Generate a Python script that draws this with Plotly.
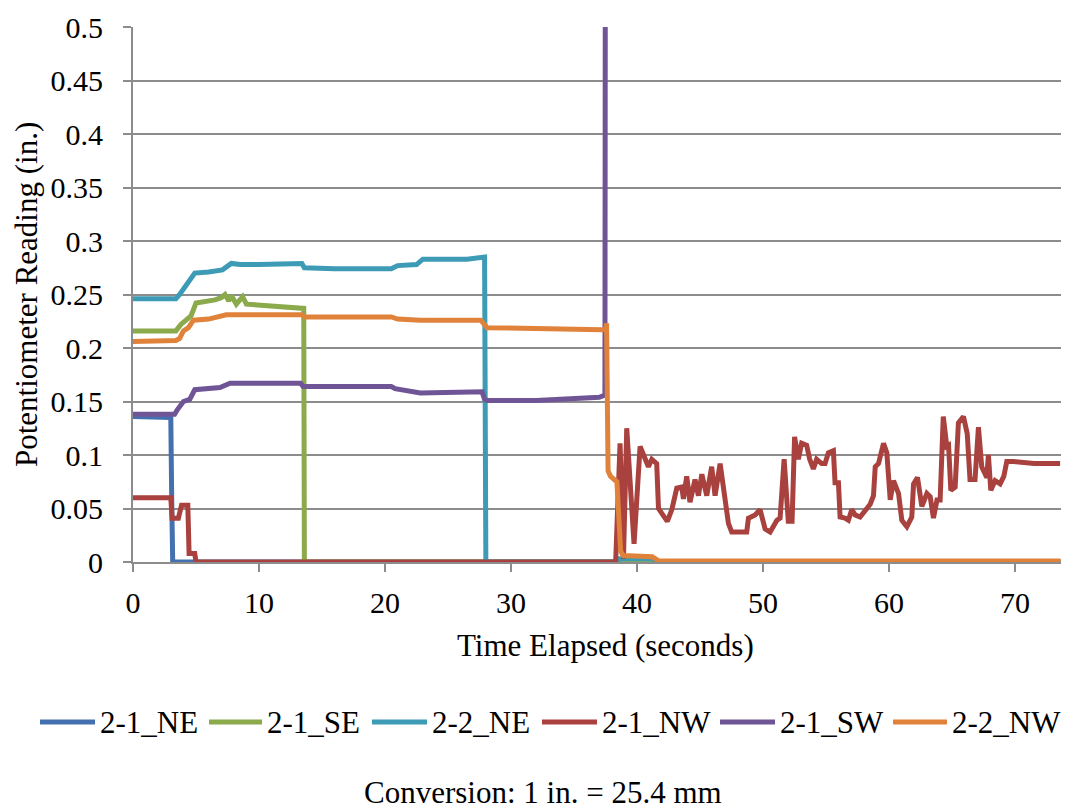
import plotly.graph_objects as go

# ---- data (time in s, reading in in.) ----
ne21_t = [0, 1.5, 3.0, 3.07, 3.15, 73.6]
ne21_v = [0.136, 0.135, 0.135, 0.06, 0.0, 0.0]

se21_t = [0, 3.4, 3.8, 4.2, 4.6, 5.0, 5.6, 6.5, 7.0, 7.3, 7.6, 7.8, 8.2, 8.7, 9.0, 10.5, 12.0, 13.4, 13.55, 13.6, 73.6]
se21_v = [0.216, 0.216, 0.222, 0.226, 0.230, 0.242, 0.243, 0.245, 0.247, 0.250, 0.244, 0.249, 0.241, 0.248, 0.241, 0.240, 0.239, 0.237, 0.237, 0.0, 0.0]

ne22_t = [0, 3.4, 3.7, 4.1, 4.5, 4.9, 6.0, 7.1, 7.8, 8.5, 10, 12, 13.4, 13.6, 16, 20.5, 21.0, 22.5, 23, 26.5, 27.8, 27.9, 28.0, 38.4, 38.6, 41.3, 41.6, 73.6]
ne22_v = [0.246, 0.246, 0.250, 0.257, 0.262, 0.270, 0.271, 0.273, 0.279, 0.278, 0.278, 0.279, 0.279, 0.275, 0.274, 0.274, 0.277, 0.278, 0.283, 0.283, 0.285, 0.285, 0.0, 0.0, 0.003, 0.003, 0.0, 0.0]

nw21_t = [0, 3.0, 3.1, 3.6, 3.85, 4.35, 4.45, 4.9, 5.0, 38.3,
          38.65, 38.92, 39.18, 39.76, 40.24, 40.63, 40.9, 41.17, 41.56, 41.7, 41.96, 42.4, 42.76, 43.15, 43.55,
          43.68, 43.94, 44.2, 44.6, 44.87, 45.14, 45.53, 45.92, 46.19, 46.59, 46.98, 47.25, 47.51, 47.91, 48.17,
          48.7, 48.84, 49.37, 49.76, 50.16, 50.56, 51.1, 51.35, 51.67, 52.0, 52.3, 52.5, 52.8, 53.06, 53.46,
          53.7, 53.99, 54.25, 54.65, 54.92, 55.18, 55.58, 55.71, 55.98, 56.11, 56.5, 56.77, 57.04, 57.3, 57.7,
          58.1, 58.5, 58.76, 58.9, 59.16, 59.56, 59.82, 60.09, 60.35, 60.75, 61.01, 61.41, 61.8, 61.94, 62.25,
          62.6, 63.0, 63.26, 63.52, 63.8, 64.05, 64.3, 64.58, 64.72, 64.9, 65.24, 65.5, 65.9, 66.2, 66.42,
          66.82, 67.09, 67.35, 67.75, 67.88, 68.07, 68.41, 68.81, 69.1, 69.34, 69.87, 71.5, 73.57]
nw21_v = [0.060, 0.060, 0.041, 0.041, 0.053, 0.053, 0.008, 0.008, 0.0, 0.0,
          0.111, 0.003, 0.125, 0.017, 0.108, 0.098, 0.089, 0.096, 0.092, 0.050, 0.046, 0.038, 0.049, 0.069, 0.070,
          0.059, 0.080, 0.056, 0.077, 0.062, 0.082, 0.062, 0.089, 0.062, 0.092, 0.058, 0.036, 0.028, 0.028, 0.027,
          0.028, 0.041, 0.044, 0.049, 0.031, 0.028, 0.039, 0.041, 0.096, 0.038, 0.038, 0.117, 0.096, 0.111, 0.109,
          0.096, 0.087, 0.096, 0.092, 0.092, 0.102, 0.104, 0.074, 0.074, 0.042, 0.041, 0.039, 0.049, 0.044, 0.042,
          0.049, 0.054, 0.062, 0.089, 0.092, 0.111, 0.102, 0.058, 0.076, 0.064, 0.039, 0.033, 0.042, 0.073, 0.079,
          0.052, 0.064, 0.061, 0.041, 0.058, 0.058, 0.136, 0.108, 0.109, 0.067, 0.070, 0.130, 0.136, 0.120, 0.077,
          0.077, 0.126, 0.089, 0.079, 0.100, 0.067, 0.076, 0.073, 0.080, 0.094, 0.094, 0.092, 0.092]

sw21_t = [0, 3.3, 3.5, 4.0, 4.5, 4.9, 6.9, 7.7, 10, 13.3, 13.5, 20.5, 20.8, 22.8, 27.7, 27.9, 28.1, 32, 37.0, 37.45, 37.55, 73.6]
sw21_v = [0.138, 0.138, 0.142, 0.150, 0.152, 0.161, 0.163, 0.167, 0.167, 0.167, 0.164, 0.164, 0.162, 0.158, 0.159, 0.152, 0.151, 0.151, 0.154, 0.156, 1.5, 1.5]

nw22_t = [0, 3.4, 3.7, 4.0, 4.4, 4.8, 6.0, 7.4, 10, 13.4, 13.6, 20.5, 21.0, 22.8, 27.6, 27.9, 28.1, 37.2, 37.5,
          37.58, 37.7, 37.9, 38.4, 38.7, 38.9, 41.2, 41.7, 73.6]
nw22_v = [0.206, 0.207, 0.209, 0.216, 0.219, 0.226, 0.227, 0.231, 0.231, 0.231, 0.229, 0.229, 0.227, 0.226, 0.226, 0.222, 0.219, 0.217, 0.217,
          0.223, 0.085, 0.080, 0.075, 0.010, 0.006, 0.005, 0.001, 0.001]

names = ["2-1_NE", "2-1_SE", "2-2_NE", "2-1_NW", "2-1_SW", "2-2_NW"]
colors = ["#4470B0", "#8BAA4B", "#3D9BB5", "#A9413E", "#6F5596", "#E0823A"]
series = [(ne21_t, ne21_v), (se21_t, se21_v), (ne22_t, ne22_v), (nw21_t, nw21_v), (sw21_t, sw21_v), (nw22_t, nw22_v)]

x_title = "Time Elapsed (seconds)"
y_title = "Potentiometer Reading (in.)"
caption = "Conversion: 1 in. = 25.4 mm"

FONT = "Liberation Serif, Times New Roman, serif"
FS = 31
LW = 5

# geometry (figure is offset by the page's 8px body margin)
W, H = 1061, 804
ML, MR, MT, MB = 125, 6, 19, 250
PW, PH = W - ML - MR, H - MT - MB
OFF = 8


def px2paper_x(px):
    return (px - OFF - ML) / PW


def px2paper_y(py):
    return (H - MB - (py - OFF)) / PH


fig = go.Figure()
for (t, v), n, c in zip(series, names, colors):
    fig.add_trace(go.Scatter(x=t, y=v, mode="lines", name=n, showlegend=False,
                             line=dict(color=c, width=LW)))

# hand-placed legend (one row, wider than the plot area, as in the reference)
leg_sym = [(40, 95), (209, 262), (372, 427), (542, 597), (720, 775), (893, 947)]
leg_txt = [99, 266, 431, 601, 779, 951]
leg_y = 722
shapes = []
annotations = []
for (a, b), tx, n, c in zip(leg_sym, leg_txt, names, colors):
    shapes.append(dict(type="line", xref="paper", yref="paper",
                       x0=px2paper_x(a), x1=px2paper_x(b), y0=px2paper_y(leg_y), y1=px2paper_y(leg_y),
                       line=dict(color=c, width=LW)))
    annotations.append(dict(text=n, xref="paper", yref="paper", x=px2paper_x(tx), y=px2paper_y(leg_y),
                            xanchor="left", yanchor="middle", showarrow=False, borderpad=0,
                            font=dict(family=FONT, size=FS, color="black")))

annotations.append(dict(text=x_title, xref="paper", yref="paper", x=px2paper_x(605), y=px2paper_y(645),
                        xanchor="center", yanchor="middle", showarrow=False,
                        font=dict(family=FONT, size=FS, color="black")))
annotations.append(dict(text=y_title, xref="paper", yref="paper", x=px2paper_x(26), y=px2paper_y(295),
                        xanchor="center", yanchor="middle", showarrow=False, textangle=-90,
                        font=dict(family=FONT, size=FS, color="black")))
annotations.append(dict(text=caption, xref="paper", yref="paper", x=px2paper_x(543), y=px2paper_y(811),
                        xanchor="center", yanchor="bottom", showarrow=False, borderpad=0,
                        font=dict(family=FONT, size=FS, color="black")))

grid = "#8C8C8C"
fig.update_layout(
    width=W, height=H,
    margin=dict(l=ML, r=MR, t=MT, b=MB),
    plot_bgcolor="white", paper_bgcolor="white",
    font=dict(family=FONT, size=FS, color="black"),
    showlegend=False,
    xaxis=dict(range=[0, 73.8], tickvals=[0, 10, 20, 30, 40, 50, 60, 70], automargin=False,
               showgrid=False, zeroline=False, showline=True, linecolor=grid, linewidth=2,
               ticks="outside", ticklen=8, tickcolor=grid, tickwidth=2,
               tickfont=dict(family=FONT, size=30), ticklabelstandoff=5),
    yaxis=dict(range=[0, 0.5], dtick=0.05, tick0=0, automargin=False,
               showgrid=True, gridcolor=grid, gridwidth=2, zeroline=False,
               showline=True, linecolor=grid, linewidth=2,
               ticks="outside", ticklen=8, tickcolor=grid, tickwidth=2,
               tickfont=dict(family=FONT, size=30), ticklabelstandoff=14),
    shapes=shapes,
    annotations=annotations,
)
fig.write_html("out.html")
